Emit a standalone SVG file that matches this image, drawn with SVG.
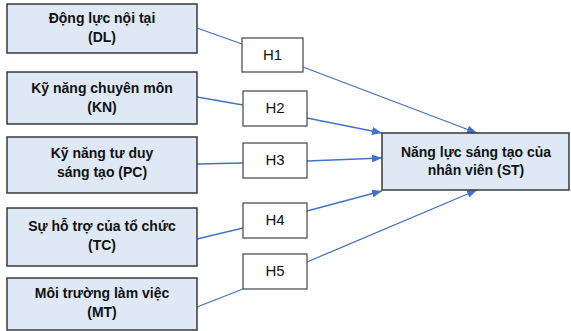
<svg xmlns="http://www.w3.org/2000/svg" width="571" height="331" viewBox="0 0 571 331">
<defs>
<style>
.src rect{fill:#dee9f5;stroke:#3a3a3a;stroke-width:1.5}
.h rect{fill:#ffffff;stroke:#505050;stroke-width:1.3}
.t{font-family:"Liberation Sans",Arial,sans-serif;font-weight:bold;font-size:14px;fill:#111;text-anchor:middle}
.ht{font-family:"Liberation Sans",Arial,sans-serif;font-size:15px;fill:#111;text-anchor:middle}
.c line{stroke:#4472c4;stroke-width:1.3}
.c line.a{marker-end:url(#arr)}
</style>
<marker id="arr" viewBox="0 0 10 8" refX="10" refY="4" markerWidth="10" markerHeight="8" markerUnits="userSpaceOnUse" orient="auto">
<path d="M0,0 L10,4 L0,8 z" fill="#4472c4"/>
</marker>
</defs>
<g id="connectors" class="c">
<line x1="197" y1="28" x2="242" y2="44"/>
<line class="a" x1="303" y1="67" x2="477" y2="133"/>
<line x1="197" y1="97" x2="243" y2="105"/>
<line class="a" x1="307" y1="118" x2="382" y2="133"/>
<line x1="197" y1="164" x2="243" y2="163"/>
<line class="a" x1="307" y1="161" x2="382" y2="158"/>
<line x1="197" y1="239" x2="243" y2="228"/>
<line class="a" x1="307" y1="211" x2="382" y2="191"/>
<line x1="197" y1="307" x2="243" y2="289"/>
<line class="a" x1="307" y1="262" x2="477" y2="190"/>
</g>
<g id="DL" class="src"><rect x="7" y="4" width="190" height="49"/><text class="t" x="102" y="23">Động lực nội tại</text><text class="t" x="102" y="42">(DL)</text></g>
<g id="KN" class="src"><rect x="7" y="72" width="190" height="52"/><text class="t" x="102" y="93">Kỹ năng chuyên môn</text><text class="t" x="102" y="112">(KN)</text></g>
<g id="PC" class="src"><rect x="7" y="137" width="190" height="56"/><text class="t" x="102" y="158">Kỹ năng tư duy</text><text class="t" x="102" y="177">sáng tạo (PC)</text></g>
<g id="TC" class="src"><rect x="7" y="208" width="190" height="58"/><text class="t" x="102" y="231">Sự hỗ trợ của tổ chức</text><text class="t" x="102" y="250">(TC)</text></g>
<g id="MT" class="src"><rect x="7" y="278" width="190" height="52"/><text class="t" x="102" y="298">Môi trường làm việc</text><text class="t" x="102" y="317">(MT)</text></g>
<g id="ST" class="src"><rect x="382" y="133" width="187" height="57"/><text class="t" x="476" y="157">Năng lực sáng tạo của</text><text class="t" x="476" y="175">nhân viên (ST)</text></g>
<g id="H1" class="h"><rect x="242" y="38" width="61" height="34"/><text class="ht" x="272.5" y="60">H1</text></g>
<g id="H2" class="h"><rect x="243" y="91" width="64" height="35"/><text class="ht" x="275" y="113">H2</text></g>
<g id="H3" class="h"><rect x="243" y="143" width="64" height="35"/><text class="ht" x="275" y="165">H3</text></g>
<g id="H4" class="h"><rect x="243" y="203" width="64" height="35"/><text class="ht" x="275" y="225">H4</text></g>
<g id="H5" class="h"><rect x="243" y="254" width="64" height="35"/><text class="ht" x="275" y="276">H5</text></g>
</svg>
